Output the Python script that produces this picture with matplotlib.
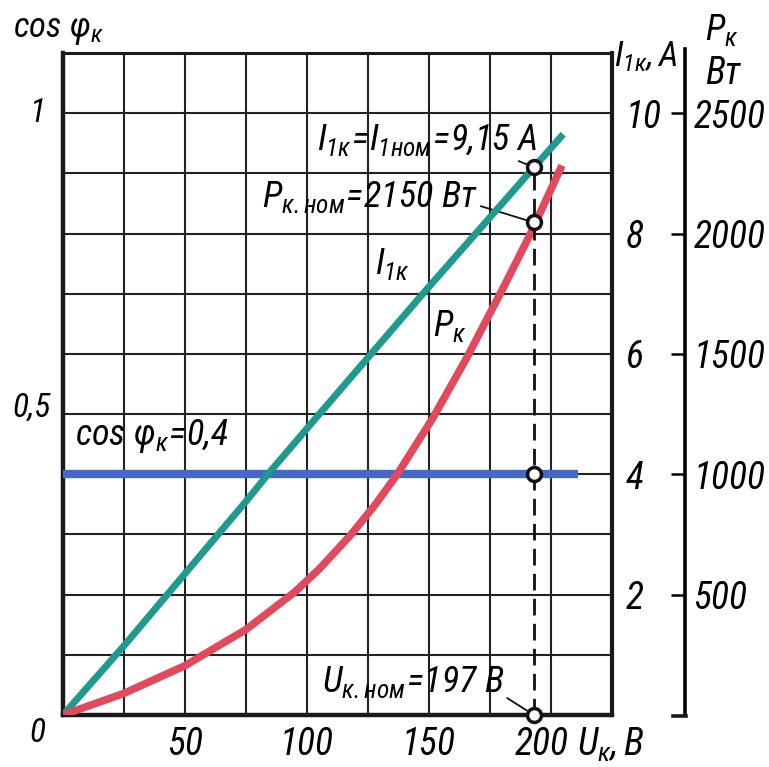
import numpy as np
import matplotlib
matplotlib.use("Agg")
import matplotlib.pyplot as plt
from matplotlib.lines import Line2D
from matplotlib import font_manager as fm

# values
u_i = [0, 25, 50, 75, 85, 104, 147.5, 193, 205]          # U_k, V
i_1k = [0, 1.15, 2.35, 3.55, 4.05, 4.95, 7.0, 9.1, 9.65]  # I_1k, A

u_p = [0, 25, 50, 75, 95, 105, 118, 128, 137, 151.6, 165.6, 181, 191.4, 204.5]
p_k = [0, 90, 205, 355, 511, 606, 749, 874, 1000, 1234, 1486, 1786, 1995, 2283]  # P_k, W

u_cos = [0, 211]
cos_phi = [0.4, 0.4]

u_nom = 193            # position of the dashed line as drawn
i_nom = 9.1
p_nom = 2046

x_ticks = [50, 100, 150]
i_ticks = [2, 4, 6, 8, 10]
p_ticks = [500, 1000, 1500, 2000, 2500]

names = {f.name for f in fm.fontManager.ttflist}
fam = 'DejaVu Sans'
for cand in ['Liberation Sans Narrow', 'DejaVu Sans Condensed', 'Roboto Condensed']:
    if cand in names:
        fam = cand
        break
k = 1.0 if fam != 'DejaVu Sans' else 0.75   # shrink text if no narrow face

plt.rcParams['font.family'] = [fam, 'DejaVu Sans']
plt.rcParams['font.style'] = 'italic'
plt.rcParams['mathtext.fontset'] = 'custom'
plt.rcParams['mathtext.it'] = fam + ':italic'
plt.rcParams['mathtext.rm'] = fam + ':italic'
plt.rcParams['mathtext.default'] = 'it'

fig = plt.figure(figsize=(7.69, 7.67), dpi=100)
ax = fig.add_axes([63/769, 1-715/767, (612-63)/769, (715-53)/767])
ax.set_xlim(0, 225)
ax.set_ylim(0, 1.1)

# grid
ax.set_xticks(np.arange(0, 226, 25))
ax.set_yticks(np.arange(0, 1.101, 0.1))
ax.grid(True, color='#222222', lw=1.5)
ax.tick_params(length=0, labelbottom=False, labelleft=False)
for s in ax.spines.values():
    s.set_linewidth(2.2)
    s.set_color('#1a1a1a')
ax.spines['left'].set_linewidth(3.2)
ax.spines['bottom'].set_linewidth(3.2)
ax.spines['right'].set_linewidth(3)
ax.set_axisbelow(True)

blue = '#4468c8'
teal = '#1e9a8e'
red = '#e04a5c'

ax.plot(u_cos, cos_phi, color=blue, lw=6, solid_capstyle='butt', zorder=3, clip_on=False)
ax.plot(u_i, np.array(i_1k) / 10, color=teal, lw=5, solid_capstyle='butt',
        solid_joinstyle='round', zorder=4)
ax.plot(u_p, np.array(p_k) / 2500, color=red, lw=5.5, solid_capstyle='butt',
        solid_joinstyle='round', zorder=4)

# dashed nominal line and markers
ax.plot([u_nom, u_nom], [0, i_nom / 10], color='#111111', lw=2, ls=(0, (6, 3)), zorder=5)
ax.plot([u_nom] * 4, [0, 0.4, p_nom / 2500, i_nom / 10], 'o', ms=10, mfc='white',
        mec='#111111', mew=2.5, zorder=6, clip_on=False)

# annotations with leader lines
fs = 26 * k
lead = dict(arrowstyle='-', color='#111111', lw=1.3, shrinkA=0, shrinkB=6)
ax.annotate(r'$I_{1к}\!=\!I_{1ном}\!=\!9{,}15\ A$', xy=(u_nom, i_nom / 10),
            xytext=(104, 0.955), fontsize=fs, va='center', ha='left',
            arrowprops=dict(lead, relpos=(0.885, 0.0)))
ax.annotate(r'$P_{к.ном}\!=\!2150\ Вт$', xy=(u_nom, p_nom / 2500),
            xytext=(81.5, 0.86), fontsize=fs, va='center', ha='left',
            arrowprops=dict(lead, relpos=(0.99, 0.3)))
ax.annotate(r'$U_{к.ном}\!=\!197\ B$', xy=(u_nom, 0),
            xytext=(106, 0.055), fontsize=fs, va='center', ha='left',
            arrowprops=dict(lead, relpos=(1.0, 0.1)))
ax.text(5, 0.463, r'$cos\ \varphi_{к}\!=\!0{,}4$', fontsize=fs, va='center', ha='left')
ax.text(135, 0.75, r'$I_{1к}$', fontsize=fs, va='center', ha='center')
ax.text(158.6, 0.647, r'$P_{к}$', fontsize=fs, va='center', ha='center')

# left labels
tr = ax.get_yaxis_transform()
ax.text(-0.033, 1.0, '1', transform=tr, fontsize=24 * k, ha='right', va='center')
ax.text(-0.022, 0.51, '0,5', transform=tr, fontsize=24 * k, ha='right', va='center')
ax.text(-0.033, -0.03, '0', transform=tr, fontsize=24 * k, ha='right', va='center')
fig.text(13/769, 1-30/767, r'$cos\ \varphi_{к}$', fontsize=25 * k, ha='left', va='center')

# bottom labels
trx = ax.get_xaxis_transform()
for v in x_ticks:
    ax.text(v, -0.045, str(v), transform=trx, fontsize=27 * k, ha='center', va='center')
ax.text(185, -0.045, r'$200\ U_{к},B$', transform=trx, fontsize=27 * k, ha='left', va='center')

# current axis (labels only)
ax3 = ax.twinx()
ax3.set_ylim(0, 11)
ax3.set_yticks(i_ticks)
ax3.set_yticklabels([str(v) for v in i_ticks])
ax3.tick_params(axis='y', length=0, pad=10, labelsize=27 * k)
for s in ax3.spines.values():
    s.set_visible(False)
fig.text(614/769, 1-57/767, r'$I_{1к},A$', fontsize=25 * k, ha='left', va='center')

# power axis
ax2 = ax.twinx()
ax2.set_ylim(0, 2750)
ax2.set_yticks(p_ticks)
ax2.set_yticklabels([str(v) for v in p_ticks])
for s in ['top', 'left', 'bottom']:
    ax2.spines[s].set_visible(False)
ax2.spines['right'].set_position(('outward', 73 * 72 / 100))
ax2.spines['right'].set_linewidth(2.6)
ax2.spines['right'].set_bounds(0, 2765)
ax2.tick_params(axis='y', direction='in', length=10, width=1.8, pad=6, labelsize=27 * k)
fig.add_artist(Line2D([673/769, 686/769], [1-716/767, 1-716/767], color='#1a1a1a', lw=2.6))
fig.text(705/769, 1-30/767, r'$P_{к}$', fontsize=26 * k, ha='left', va='center')
fig.text(705/769, 1-74/767, 'Вт', fontsize=27 * k, ha='left', va='center')

fig.savefig('out.png', dpi=100)
